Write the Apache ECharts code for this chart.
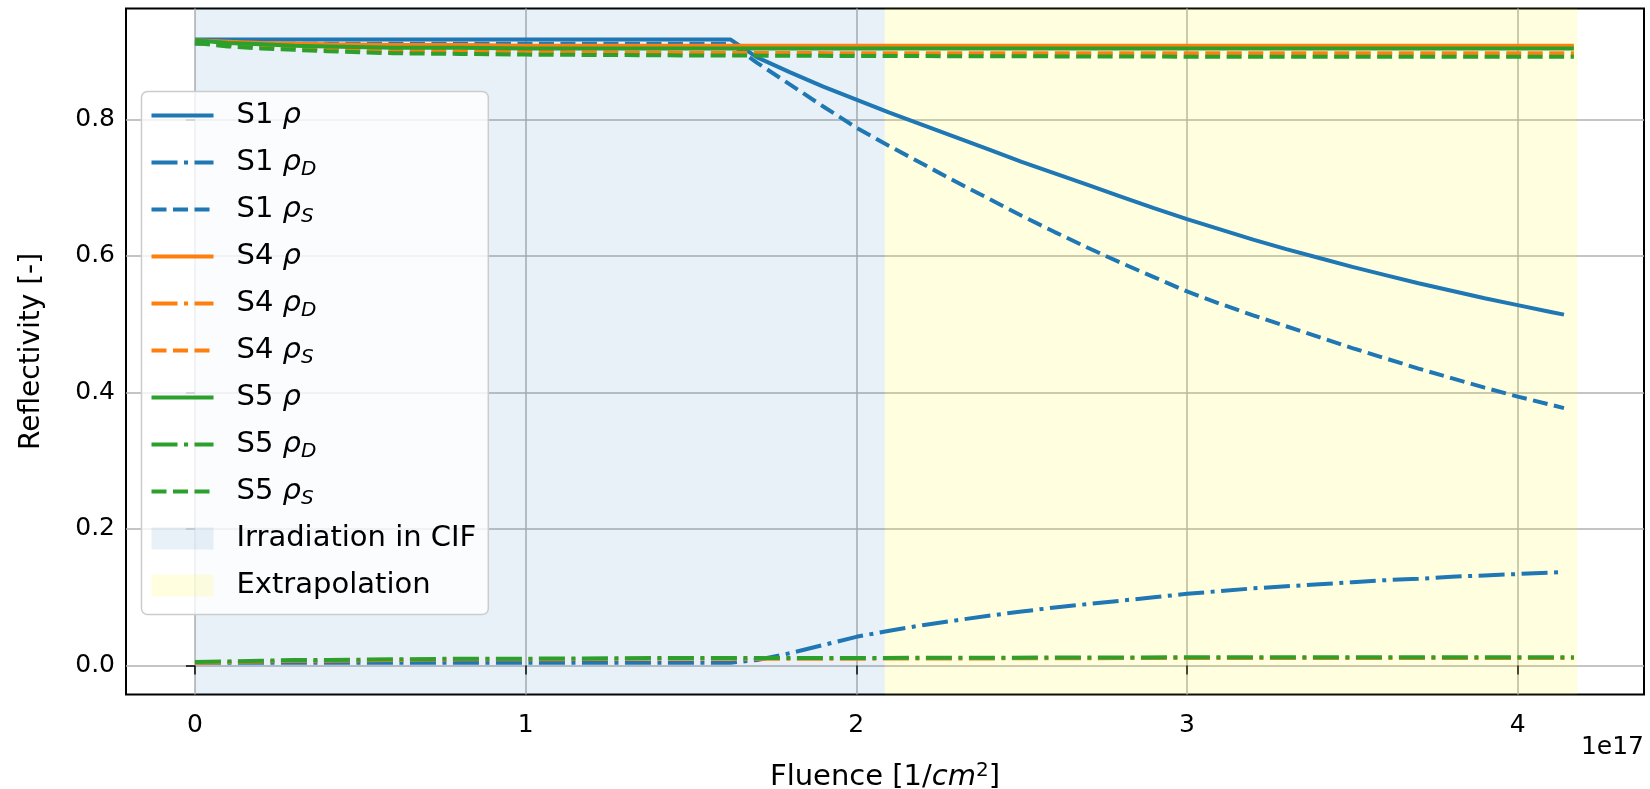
<!DOCTYPE html>
<html>
<head>
<meta charset="utf-8">
<script src="https://cdn.jsdelivr.net/npm/echarts@6/dist/echarts.min.js"></script>
<style>
  html, body { margin: 0; padding: 0; background: #fff; }
  #reflectivity { width: 1650px; height: 789px; }
</style>
</head>
<body>
<div id="reflectivity"></div>
<script>
// fluence in units of 1e17 1/cm^2
const fluenceS1 = [0, 0.4, 0.8, 1.2, 1.62, 1.7, 1.8, 1.9, 2.0, 2.1, 2.2, 2.3, 2.4, 2.5, 2.6, 2.7, 2.8, 2.9, 3.0,
  3.1, 3.2, 3.3, 3.4, 3.5, 3.6, 3.7, 3.8, 3.9, 4.0, 4.1, 4.14];
const s1Rho  = [0.917, 0.917, 0.917, 0.917, 0.917, 0.891, 0.869, 0.848, 0.829, 0.810, 0.792, 0.774, 0.756, 0.738, 0.721, 0.704, 0.687, 0.670, 0.654,
  0.639, 0.624, 0.610, 0.597, 0.584, 0.572, 0.560, 0.549, 0.538, 0.528, 0.518, 0.514];
const s1RhoD = [0.004, 0.004, 0.004, 0.004, 0.004, 0.008, 0.018, 0.030, 0.042, 0.051, 0.059, 0.066, 0.073, 0.079, 0.085, 0.090, 0.095, 0.100, 0.105,
  0.109, 0.113, 0.116, 0.119, 0.122, 0.125, 0.127, 0.130, 0.132, 0.134, 0.136, 0.137];
const s1RhoS = [0.911, 0.911, 0.911, 0.911, 0.911, 0.883, 0.851, 0.819, 0.788, 0.761, 0.735, 0.709, 0.684, 0.659, 0.635, 0.612, 0.590, 0.569, 0.548,
  0.530, 0.513, 0.497, 0.481, 0.465, 0.450, 0.435, 0.421, 0.407, 0.394, 0.382, 0.377];

const fluenceS45 = [0, 0.1, 0.2, 0.3, 0.4, 0.6, 0.8, 1.0, 1.4, 2.0, 3.0, 4.17];
const s4Rho  = [0.916, 0.914, 0.912, 0.911, 0.910, 0.909, 0.909, 0.908, 0.908, 0.908, 0.908, 0.908];
const s4RhoD = [0.004, 0.005, 0.006, 0.007, 0.007, 0.008, 0.009, 0.009, 0.010, 0.010, 0.011, 0.011];
const s4RhoS = [0.912, 0.909, 0.907, 0.905, 0.903, 0.901, 0.900, 0.899, 0.898, 0.897, 0.897, 0.897];
const s5Rho  = [0.916, 0.912, 0.910, 0.908, 0.907, 0.905, 0.905, 0.904, 0.904, 0.904, 0.904, 0.904];
const s5RhoD = [0.005, 0.006, 0.007, 0.008, 0.008, 0.009, 0.010, 0.010, 0.011, 0.011, 0.012, 0.012];
const s5RhoS = [0.912, 0.907, 0.904, 0.902, 0.900, 0.897, 0.896, 0.895, 0.894, 0.893, 0.892, 0.892];

// shaded phases
const irradiationRange = [0, 2.086];
const extrapolationRange = [2.086, 4.18];

const xTicks = [0, 1, 2, 3, 4];
const yTicks = [0, 0.2, 0.4, 0.6, 0.8];

const FONT = 'DejaVu Sans';
const colors = {S1: '#1f77b4', S4: '#ff7f0e', S5: '#2ca02c'};
const dashes = {
  rho: 'solid',
  rhoD: [26, 6.5, 4, 6.5],
  rhoS: [15, 6.5]
};

function zip(xs, ys) {
  return xs.map((x, i) => [x, ys[i]]);
}

function curve(name, sample, kind, xs, ys) {
  return {
    name: name,
    type: 'line',
    data: zip(xs, ys),
    symbol: 'none',
    color: colors[sample],
    lineStyle: {width: 4, type: dashes[kind], color: colors[sample]},
    emphasis: {disabled: true},
    animation: false
  };
}

function phase(name, color, range) {
  return {
    name: name,
    type: 'line',
    data: [],
    symbol: 'none',
    color: color,
    itemStyle: {color: color},
    animation: false,
    markArea: {
      silent: true,
      itemStyle: {color: color},
      data: [[{xAxis: range[0]}, {xAxis: range[1]}]]
    }
  };
}

const chartDom = document.getElementById('reflectivity');
const myChart = echarts.init(chartDom);

const blueShade = 'rgba(31,119,180,0.1)';
const yellowShade = 'rgba(255,255,0,0.12)';

const series = [
  phase('Irradiation in CIF', blueShade, irradiationRange),
  phase('Extrapolation', yellowShade, extrapolationRange),
  curve('S1 ρ', 'S1', 'rho', fluenceS1, s1Rho),
  curve('S1 ρD', 'S1', 'rhoD', fluenceS1, s1RhoD),
  curve('S1 ρS', 'S1', 'rhoS', fluenceS1, s1RhoS),
  curve('S4 ρ', 'S4', 'rho', fluenceS45, s4Rho),
  curve('S4 ρD', 'S4', 'rhoD', fluenceS45, s4RhoD),
  curve('S4 ρS', 'S4', 'rhoS', fluenceS45, s4RhoS),
  curve('S5 ρ', 'S5', 'rho', fluenceS45, s5Rho),
  curve('S5 ρD', 'S5', 'rhoD', fluenceS45, s5RhoD),
  curve('S5 ρS', 'S5', 'rhoS', fluenceS45, s5RhoS)
];

const legendNames = ['S1 ρ', 'S1 ρD', 'S1 ρS', 'S4 ρ', 'S4 ρD', 'S4 ρS', 'S5 ρ', 'S5 ρD', 'S5 ρS'];

const option = {
  backgroundColor: '#fff',
  animation: false,
  grid: {
    left: 126,
    right: 6,
    top: 8.4,
    bottom: 94.5,
    outerBoundsMode: 'none',
    show: true,
    borderColor: '#000',
    borderWidth: 2,
    backgroundColor: '#fff'
  },
  legend: {
    orient: 'vertical',
    left: 141.5,
    top: 91.5,
    padding: [7, 12, 12, 8],
    itemGap: 13,
    itemWidth: 62,
    itemHeight: 22,
    backgroundColor: 'rgba(255,255,255,0.8)',
    borderColor: '#cccccc',
    borderWidth: 1.5,
    borderRadius: 6,
    selectedMode: false,
    itemStyle: {opacity: 0},
    lineStyle: {width: 4},
    data: legendNames.map(n => ({name: n})).concat([
      {name: 'Irradiation in CIF', icon: 'rect', itemStyle: {opacity: 1, color: blueShade}},
      {name: 'Extrapolation', icon: 'rect', itemStyle: {opacity: 1, color: yellowShade}}
    ]),
    formatter: function (name) {
      const m = name.match(/^(S\d) ρ([DS]?)$/);
      if (!m) return name;
      return m[1] + ' {r|ρ}' + (m[2] ? '{s|' + m[2] + '}' : '');
    },
    textStyle: {
      fontFamily: FONT,
      fontSize: 29,
      color: '#000',
      lineHeight: 34,
      padding: [0, 0, 0, 18],
      rich: {
        r: {fontFamily: FONT, fontSize: 29, fontStyle: 'italic', color: '#000', lineHeight: 34},
        s: {fontFamily: FONT, fontSize: 20, fontStyle: 'italic', color: '#000', lineHeight: 20, verticalAlign: 'bottom'}
      }
    }
  },
  xAxis: {
    type: 'value',
    min: -0.2085,
    max: 4.382,
    name: 'Fluence [1/{i|cm}{sup|2}]',
    nameLocation: 'middle',
    nameGap: 66,
    nameTextStyle: {
      fontFamily: FONT,
      fontSize: 29,
      color: '#000',
      lineHeight: 34,
      rich: {
        i: {fontFamily: FONT, fontSize: 29, fontStyle: 'italic', color: '#000', lineHeight: 34},
        sup: {fontFamily: FONT, fontSize: 20, color: '#000', lineHeight: 20, verticalAlign: 'top'}
      }
    },
    axisLine: {show: false},
    axisTick: {
      show: true,
      customValues: xTicks,
      length: 9,
      lineStyle: {color: '#000', width: 1.5}
    },
    axisLabel: {
      customValues: xTicks,
      margin: 18,
      fontFamily: FONT,
      fontSize: 25,
      color: '#000',
      formatter: v => String(v)
    },
    splitLine: {show: true, lineStyle: {color: '#b0b0b0', width: 1.5}}
  },
  yAxis: {
    type: 'value',
    min: -0.0425,
    max: 0.9627,
    name: 'Reflectivity [-]',
    nameLocation: 'middle',
    nameGap: 80,
    nameTextStyle: {fontFamily: FONT, fontSize: 28, color: '#000'},
    axisLine: {show: false},
    axisTick: {
      show: true,
      customValues: yTicks,
      length: 9,
      lineStyle: {color: '#000', width: 1.5}
    },
    axisLabel: {
      customValues: yTicks,
      margin: 11,
      fontFamily: FONT,
      fontSize: 25,
      color: '#000',
      formatter: v => v.toFixed(1)
    },
    splitLine: {show: true, lineStyle: {color: '#b0b0b0', width: 1.5}}
  },
  graphic: [
    {
      type: 'text',
      right: 6,
      top: 735,
      style: {text: '1e17', fontFamily: FONT, fontSize: 25, fill: '#000'}
    }
  ],
  series: series
};

option && myChart.setOption(option);
</script>
</body>
</html>
